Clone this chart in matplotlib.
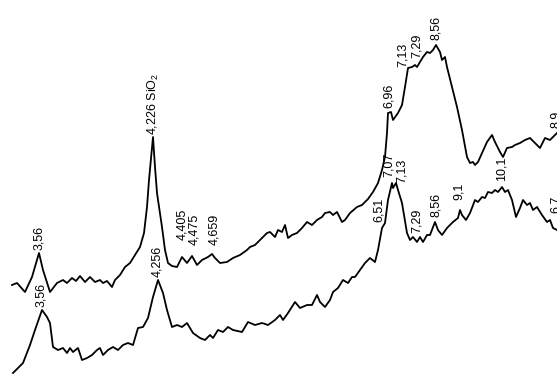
import matplotlib
matplotlib.use("Agg")
import matplotlib.pyplot as plt

plt.rcParams["font.family"] = ["Liberation Sans", "DejaVu Sans"]
plt.rcParams["mathtext.fontset"] = "custom"
plt.rcParams["mathtext.rm"] = "Liberation Sans"

# Upper diffractogram: scan position and intensity (arbitrary units)
upper_pos = [12, 17, 25, 32, 39, 43, 50, 57, 63, 67, 72, 76, 80, 85, 90, 95, 100, 103, 107, 112,
             115, 120, 125, 130, 135, 140, 144, 147, 149, 153, 155, 157, 162, 165, 168, 172, 177,
             182, 187, 192, 197, 202, 208, 212, 215, 220, 227, 233, 240, 247, 250, 255, 260, 267,
             270, 275, 278, 282, 285, 288, 292, 297, 302, 307, 312, 317, 322, 325, 330, 333, 337,
             342, 345, 350, 357, 362, 365, 368, 373, 378, 382, 385, 387, 388, 391, 393, 398, 402,
             405, 408, 412, 415, 417, 420, 423, 427, 430, 433, 436, 440, 442, 445, 447, 452, 457,
             462, 467, 470, 473, 475, 478, 482, 487, 492, 495, 500, 503, 507, 512, 515, 520, 525,
             530, 535, 540, 545, 550, 555, 557]
upper_int = [89, 91, 82, 97, 121, 104, 82, 91, 94, 91, 96, 93, 98, 92, 97, 92, 94, 91, 93, 87,
             94, 99, 107, 111, 119, 127, 141, 167, 194, 237, 207, 181, 147, 124, 111, 108, 107,
             117, 111, 118, 109, 114, 117, 120, 116, 111, 112, 116, 119, 124, 127, 129, 134, 141,
             142, 137, 144, 142, 149, 136, 139, 141, 146, 152, 149, 154, 157, 161, 162, 159, 162,
             152, 154, 161, 167, 169, 172, 175, 182, 191, 204, 217, 241, 261, 262, 254, 261, 269,
             287, 306, 307, 309, 307, 312, 317, 322, 321, 324, 329, 322, 314, 317, 307, 287, 267,
             244, 217, 211, 212, 209, 212, 221, 232, 239, 232, 222, 217, 226, 227, 229, 231, 234,
             236, 231, 226, 236, 234, 239, 241]

# Lower diffractogram
lower_pos = [13, 23, 30, 35, 42, 47, 50, 53, 58, 63, 67, 70, 73, 78, 82, 87, 92, 97, 100, 103,
             108, 113, 118, 123, 128, 133, 138, 143, 148, 153, 158, 163, 167, 172, 177, 182, 187,
             193, 200, 205, 210, 213, 218, 223, 228, 233, 242, 248, 255, 262, 268, 275, 280, 283,
             288, 295, 300, 307, 312, 317, 320, 325, 330, 333, 338, 343, 348, 352, 355, 360, 365,
             370, 375, 378, 382, 385, 388, 392, 393, 396, 398, 402, 407, 410, 413, 417, 420, 423,
             427, 430, 435, 438, 442, 447, 450, 453, 458, 460, 462, 466, 470, 475, 478, 482, 485,
             488, 492, 495, 498, 502, 505, 508, 512, 516, 520, 523, 527, 530, 533, 537, 542, 547,
             550, 553, 557]
lower_int = [1, 11, 29, 44, 64, 57, 51, 27, 24, 26, 21, 26, 22, 26, 14, 16, 19, 24, 26, 19,
             24, 27, 24, 29, 31, 29, 46, 47, 56, 77, 94, 81, 64, 47, 49, 47, 51,
             41, 36, 34, 39, 36, 44, 42, 47, 44, 42, 52, 49, 51, 49, 54, 59, 54,
             61, 72, 66, 69, 69, 79, 72, 67, 74, 82, 86, 94, 91, 97, 97, 104, 111,
             116, 112, 124, 146, 151, 174, 191, 186, 191, 184, 171, 141, 134, 137, 132, 137, 132,
             139, 139, 152, 144, 139, 146, 149, 152, 156, 164, 159, 154, 161, 174, 172, 177, 176,
             182, 181, 184, 182, 187, 182, 184, 174, 157, 166, 174, 169, 171, 164, 167, 159, 152,
             154, 146, 144]

# Peak annotations (interplanar spacings, Å): label, position, height of label foot
upper_labels = ["3,56", "4,226 SiO$_{\\mathregular{2}}$", "4,405", "4,475", "4,659",
                "6,96", "7,13", "7,29", "8,56", "8,9"]
upper_label_pos = [39, 153, 182, 194, 214, 389, 403, 417, 436, 556]
upper_label_h = [124, 239, 134, 129, 129, 266, 307, 316, 334, 246]

lower_labels = ["3,56", "4,256", "6,51", "7,07", "7,13", "7,29", "8,56", "9,1", "10,1", "6,7"]
lower_label_pos = [41, 157, 379, 389, 402, 417, 436, 459, 502, 556]
lower_label_h = [67, 97, 152, 197, 191, 141, 157, 174, 193, 161]

fig = plt.figure(figsize=(5.57, 3.74), dpi=100)
ax = fig.add_axes([0, 0, 1, 1])
ax.set_xlim(0, 557)
ax.set_ylim(0, 374)
ax.axis("off")

ax.plot(upper_pos, upper_int, color="black", lw=1.3)
ax.plot(lower_pos, lower_int, color="black", lw=1.3)

for txt, x, h in zip(upper_labels + lower_labels,
                     upper_label_pos + lower_label_pos,
                     upper_label_h + lower_label_h):
    ax.text(x, h, txt, rotation=90, ha="center", va="bottom",
            fontsize=9, color="black")

fig.savefig("out.png", dpi=100, facecolor="white")
